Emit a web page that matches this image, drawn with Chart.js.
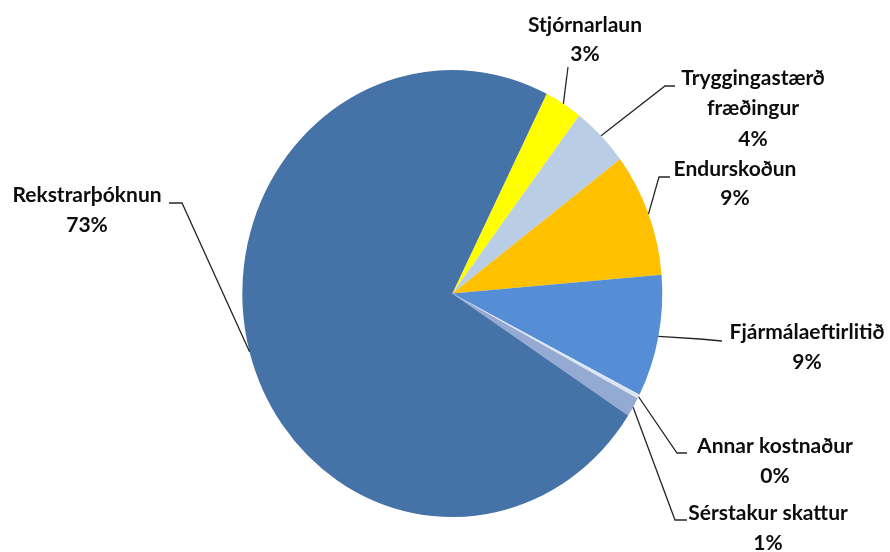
<!DOCTYPE html>
<html><head><meta charset="utf-8">
<script src="https://cdn.jsdelivr.net/npm/chart.js@4.4.1/dist/chart.umd.min.js"></script>
<style>html,body{margin:0;padding:0;background:#fff;} #wrap{width:890px;height:552px;position:relative}</style>
</head><body><div id="wrap"><canvas id="c" width="890" height="552"></canvas></div>
<script>
// ---- data ----
const categories = ['Stjórnarlaun','Tryggingastærðfræðingur','Endurskoðun','Fjármálaeftirlitið','Annar kostnaður','Sérstakur skattur','Rekstrarþóknun'];
const labelLines = [['Stjórnarlaun'],['Tryggingastærð','fræðingur'],['Endurskoðun'],['Fjármálaeftirlitið'],['Annar kostnaður'],['Sérstakur skattur'],['Rekstrarþóknun']];
const values = [2.9, 4.4, 8.9, 8.8, 0.3, 1.4, 73.0];

// ---- styling / layout ----
const colors = ['#FFFF00','#B9CDE5','#FFC000','#558ED5','#DCE6F2','#95AAD3','#4572A7'];
const SY = 223.5/210; // vertical stretch of the pie (reference is slightly elliptical)
const labelLayout = [
  {pts:[[568,67]], x:585, y:[32,61]},
  {pts:[[665,86],[675,86]], x:753, y:[85,115,145.5]},
  {pts:[[659,177],[670,177]], x:735, y:[175.5,204.5]},
  {pts:[[700,339],[722,341]], x:807, y:[339,369]},
  {pts:[[677,453],[687,453]], x:775, y:[452.5,482.5]},
  {pts:[[675,520],[687,520]], x:768, y:[520,550]},
  {pts:[[182,203],[169,203]], x:87, y:[202,231.5]}
];

const stretch = {
  id:'stretch',
  beforeDatasetsDraw(chart){
    const a = chart.getDatasetMeta(0).data[0];
    const ctx = chart.ctx;
    ctx.save(); ctx.translate(a.x,a.y); ctx.scale(1,SY); ctx.translate(-a.x,-a.y);
  },
  afterDatasetsDraw(chart){ chart.ctx.restore(); }
};
const labelsPlugin = {
  id:'labelsPlugin',
  afterDraw(chart){
    const ctx = chart.ctx; const meta = chart.getDatasetMeta(0);
    const total = values.reduce((a,b)=>a+b,0);
    meta.data.forEach((arc,i)=>{
      const p = arc.getProps(['x','y','startAngle','endAngle','outerRadius'], true);
      const mid = (p.startAngle+p.endAngle)/2;
      const sx = p.x + Math.cos(mid)*p.outerRadius;
      const sy = p.y + Math.sin(mid)*p.outerRadius*SY;
      const L = labelLayout[i];
      ctx.save();
      ctx.strokeStyle = '#262626'; ctx.lineWidth = 1.3;
      ctx.beginPath(); ctx.moveTo(sx,sy); L.pts.forEach(q=>ctx.lineTo(q[0],q[1])); ctx.stroke();
      ctx.fillStyle = '#0d0d0d'; ctx.font = 'bold 21px Lato'; ctx.textAlign = 'center'; ctx.textBaseline = 'alphabetic';
      const lines = [...labelLines[i], Math.round(values[i]/total*100)+'%'];
      lines.forEach((t,k)=>ctx.fillText(t, L.x, L.y[k]));
      ctx.restore();
    });
  }
};

new Chart(document.getElementById('c'), {
  type:'pie',
  data:{ labels:categories, datasets:[{ data:values, backgroundColor:colors, borderWidth:0, hoverOffset:0, offset:0 }] },
  options:{
    responsive:false, animation:false, events:[],
    rotation:26.7, radius:210,
    layout:{ padding:{ left:242.3, right:227.7, top:83.5, bottom:48.5 } },
    plugins:{ legend:{display:false}, tooltip:{enabled:false} }
  },
  plugins:[stretch, labelsPlugin]
});
</script></body></html>
